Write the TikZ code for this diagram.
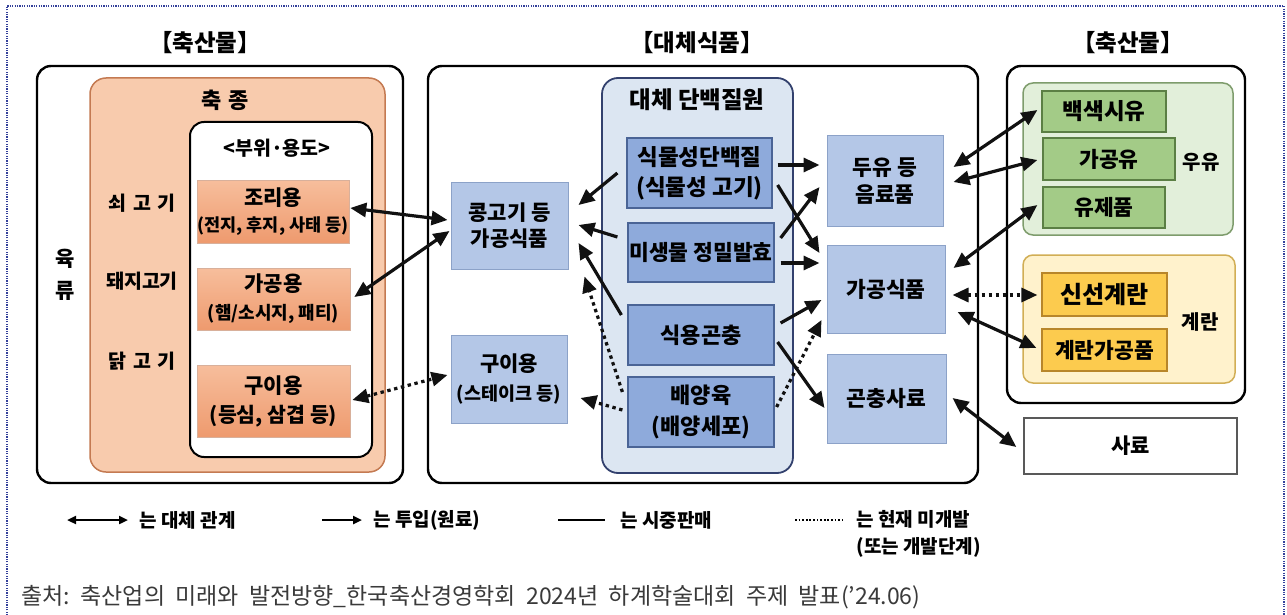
\documentclass[tikz,border=0pt]{standalone}
\usepackage{fontspec}
\setmainfont{Noto Sans CJK KR}
\usetikzlibrary{arrows.meta}
\definecolor{frameblue}{HTML}{34409A}
\definecolor{orfill}{HTML}{F8CBAD}
\definecolor{ordraw}{HTML}{C47A52}
\definecolor{oritemtop}{HTML}{F7BE9C}
\definecolor{oritembot}{HTML}{EE9A6E}
\definecolor{daefill}{HTML}{DCE6F2}
\definecolor{daedraw}{HTML}{33416E}
\definecolor{dkblue}{HTML}{8EAADB}
\definecolor{dkbluedraw}{HTML}{4A6496}
\definecolor{ltblue}{HTML}{B4C7E7}
\definecolor{ltbluedraw}{HTML}{8CA2C8}
\definecolor{gfill}{HTML}{E2EFDA}
\definecolor{gdraw}{HTML}{7E9C6C}
\definecolor{gitem}{HTML}{A3CB87}
\definecolor{gitemdraw}{HTML}{5B7F44}
\definecolor{yfill}{HTML}{FFF2CC}
\definecolor{ydraw}{HTML}{D1AE55}
\definecolor{yitem}{HTML}{FCCB4E}
\definecolor{yitemdraw}{HTML}{B8862A}
\definecolor{captgray}{HTML}{3A3A3A}
\definecolor{arrowblack}{HTML}{111111}
\newcommand{\fz}[2]{\fontsize{#1}{#2}\selectfont\bfseries}
\tikzset{
  bx/.style={rectangle, inner sep=0pt, align=center},
  outerbox/.style={bx, draw=black, line width=2.4pt, rounded corners=14pt},
  oritem/.style={bx, draw=oritembot!80!black!60, line width=0.6pt, top color=oritemtop, bottom color=oritembot},
  dkb/.style={bx, draw=dkbluedraw, line width=1.2pt, fill=dkblue},
  ltb/.style={bx, draw=ltbluedraw, line width=1pt, fill=ltblue},
  gi/.style={bx, draw=gitemdraw, line width=1.2pt, fill=gitem},
  yi/.style={bx, draw=yitemdraw, line width=1.2pt, fill=yitem},
  bigtip/.tip={Triangle[length=16pt,width=14pt]},
  arr/.style={-bigtip, line width=3.2pt, draw=arrowblack},
  dbl/.style={bigtip-bigtip, line width=3.2pt, draw=arrowblack},
  dots/.style={dash pattern=on 3.4pt off 3.6pt},
  smalltip/.tip={Triangle[length=9pt,width=8pt]},
}
\begin{document}
\begin{tikzpicture}[x=1pt,y=-1pt]
\path[use as bounding box, fill=white] (0,0) rectangle (1287,615);
% outer dotted frame
\draw[frameblue, line width=1.8pt, dash pattern=on 1.2pt off 1.2pt] (7,620) -- (7,6) -- (1284,6) -- (1284,620);

% titles
\node[font=\fz{23.5}{28}] (t1) at (205,43) {【축산물】};
\node[font=\fz{23.5}{28}] (t2) at (697,43) {【대체식품】};
\node[font=\fz{23.5}{28}] (t3) at (1128,43) {【축산물】};

% ---------- left panel ----------
\node[outerbox, minimum width=366pt, minimum height=417pt] (lout) at (220,274.5) {};
\node[bx, draw=ordraw, line width=1.5pt, fill=orfill, rounded corners=16pt, minimum width=295pt, minimum height=394pt] (chuk) at (237.5,275) {};
\node[font=\fz{22}{26}] (chukt) at (225,100) {축\hspace{7pt}종};
\node[bx, draw=black, line width=2pt, fill=white, rounded corners=14pt, minimum width=182pt, minimum height=335pt] (buwi) at (281,289.5) {};
\node[font=\fz{19.5}{24}] (buwit) at (277,148) {<부위·용도>};
\node[oritem, font=\fz{21}{26}, minimum width=152pt, minimum height=63pt] (jori) at (273,211.5) {조리용\\{\fz{17.5}{22}(전지, 후지, 사태 등)}};
\node[oritem, font=\fz{21}{28}, minimum width=153pt, minimum height=62pt] (gagong) at (273.5,299) {가공용\\{\fz{18}{22}(햄/소시지, 패티)}};
\node[oritem, font=\fz{21}{29}, minimum width=153pt, minimum height=72pt] (gui) at (273.5,401) {구이용\\{\fz{20.5}{24}(등심, 삼겹 등)}};
\node[font=\fz{19.5}{24}] (beef) at (142,203) {쇠\hspace{7pt}고\hspace{7pt}기};
\node[font=\fz{19.5}{24}] (pork) at (142,281) {돼지고기};
\node[font=\fz{19.5}{24}] (chick) at (142,361) {닭\hspace{7pt}고\hspace{7pt}기};
\node[font=\fz{21}{26}] (yuk) at (65,259) {육};
\node[font=\fz{21}{26}] (ryu) at (65,291) {류};

% ---------- middle panel ----------
\node[outerbox, minimum width=550pt, minimum height=417pt] (mout) at (703,274.5) {};
\node[bx, draw=daedraw, line width=1.8pt, fill=daefill, rounded corners=16pt, minimum width=191pt, minimum height=395pt] (dae) at (697.5,275.5) {};
\node[font=\fz{23.5}{28}] (daet) at (697,100) {대체 단백질원};
\node[dkb, font=\fz{22.5}{30}, minimum width=145pt, minimum height=70pt] (sik) at (699.5,173) {식물성단백질\\(식물성 고기)};
\node[dkb, font=\fz{21.5}{26}, minimum width=146pt, minimum height=59pt] (mi) at (701,252.5) {미생물 정밀발효};
\node[dkb, font=\fz{22}{26}, minimum width=146pt, minimum height=60pt] (gon) at (701,335) {식용곤충};
\node[dkb, font=\fz{22}{31}, minimum width=146pt, minimum height=70pt] (bae) at (701,412) {배양육\\(배양세포)};
\node[ltb, font=\fz{21}{26}, minimum width=117pt, minimum height=87pt] (kong) at (509.5,225.5) {콩고기 등\\가공식품};
\node[ltb, font=\fz{21}{29}, minimum width=116pt, minimum height=88pt] (guib) at (509,379) {구이용\\{\fz{18.5}{22}(스테이크 등)}};
\node[ltb, font=\fz{21.5}{27}, minimum width=116pt, minimum height=90pt] (duyu) at (885,181) {두유 등\\음료품};
\node[ltb, font=\fz{21.5}{26}, minimum width=118pt, minimum height=88pt] (gasik) at (886,289) {가공식품};
\node[ltb, font=\fz{21.5}{26}, minimum width=119pt, minimum height=89pt] (gonsa) at (886.5,398.5) {곤충사료};

% ---------- right panel ----------
\node[outerbox, minimum width=238pt, minimum height=337pt] (rout) at (1126,234.5) {};
\node[bx, draw=gdraw, line width=1.5pt, fill=gfill, rounded corners=10pt, minimum width=210pt, minimum height=152pt] (milk) at (1128,159) {};
\node[gi, font=\fz{22.5}{26}, minimum width=124pt, minimum height=41pt] (m1) at (1104,111.5) {백색시유};
\node[gi, font=\fz{21.5}{26}, minimum width=132pt, minimum height=42pt] (m2) at (1109,159) {가공유};
\node[gi, font=\fz{21.5}{26}, minimum width=122pt, minimum height=41pt] (m3) at (1104,207.5) {유제품};
\node[font=\fz{20}{24}] (milkt) at (1201,162) {우유};
\node[bx, draw=ydraw, line width=1.5pt, fill=yfill, rounded corners=10pt, minimum width=212pt, minimum height=128pt] (egg) at (1129,319) {};
\node[yi, font=\fz{24}{28}, minimum width=125pt, minimum height=43pt] (e1) at (1104.5,294.5) {신선계란};
\node[yi, font=\fz{21.5}{26}, minimum width=125pt, minimum height=42pt] (e2) at (1104.5,350) {계란가공품};
\node[font=\fz{20}{24}] (eggt) at (1200,322) {계란};
\node[bx, font=\fz{21}{26}, draw=black!65, line width=1.4pt, fill=white, minimum width=213pt, minimum height=56pt] (saryo) at (1130.5,446) {사료};

% ---------- connectors: left ----------
\draw[dbl] ([xshift=1pt,yshift=3.5pt]jori.east) -- ([xshift=-3pt,yshift=5.5pt]kong.west);
\draw[dbl] ([xshift=4pt,yshift=2pt]gagong.east) -- ([xshift=-1pt,yshift=-5.5pt]kong.west);
\draw[dbl, dots] ([xshift=2pt,yshift=1pt]gui.east) -- ([xshift=-3pt,yshift=4pt]guib.west);

% ---------- connectors: middle to left ----------
\draw[arr] ([xshift=-9pt,yshift=0pt]sik.west) -- ([xshift=10pt,yshift=20.5pt]kong.east);
\draw[arr] ([xshift=-10pt,yshift=15.5pt]mi.west) -- ([xshift=10pt,yshift=0.5pt]kong.east);
\draw[arr] ([xshift=-6pt,yshift=20pt]gon.west) -- ([xshift=10pt,yshift=-17.5pt]kong.east);
\draw[arr, dots] ([xshift=-5pt,yshift=20pt]bae.west) -- ([xshift=16pt,yshift=-7pt]kong.south east);
\draw[arr, dots] ([xshift=-5pt,yshift=2pt]bae.west) -- ([xshift=13pt,yshift=-19pt]guib.east);

% ---------- connectors: middle to right ----------
\draw[arr] ([xshift=5pt,yshift=8pt]sik.east) -- ([xshift=-7pt,yshift=16pt]duyu.west);
\draw[arr] ([xshift=5pt,yshift=-12pt]sik.east) -- ([xshift=-7pt,yshift=36pt]gasik.west);
\draw[arr] ([xshift=6pt,yshift=14.5pt]mi.east) -- ([xshift=-7pt,yshift=-6pt]duyu.west);
\draw[arr] ([xshift=6pt,yshift=-10.5pt]mi.east) -- ([xshift=-7pt,yshift=26pt]gasik.west);
\draw[arr] ([xshift=6pt,yshift=12pt]gon.east) -- ([xshift=-5pt,yshift=-11pt]gasik.west);
\draw[arr] ([xshift=3pt,yshift=-7pt]gon.east) -- ([xshift=-2pt,yshift=-9.5pt]gonsa.west);
\draw[arr, dots] ([xshift=2pt,yshift=5pt]bae.east) -- ([xshift=-5pt,yshift=-31pt]gasik.west);

% ---------- connectors: right ----------
\draw[dbl] ([xshift=10pt,yshift=14pt]duyu.east) -- ([xshift=-4pt,yshift=1.5pt]m1.west);
\draw[dbl] ([xshift=10pt,yshift=-1pt]duyu.east) -- ([xshift=-5pt,yshift=-1pt]m2.west);
\draw[dbl] ([xshift=8pt,yshift=21pt]gasik.east) -- ([xshift=-5pt,yshift=2.5pt]m3.west);
\draw[dbl, dots] ([xshift=7pt,yshift=-6pt]gasik.east) -- ([xshift=-4pt,yshift=-0.5pt]e1.west);
\draw[dbl] ([xshift=12pt,yshift=-23pt]gasik.east) -- ([xshift=-5pt,yshift=2pt]e2.west);
\draw[dbl] ([xshift=6pt,yshift=0.5pt]gonsa.east) -- ([xshift=-7pt,yshift=-1pt]saryo.west);

% ---------- legend ----------
\coordinate (l1a) at (67,520); \coordinate (l1b) at (128,520);
\coordinate (l2a) at (322,520); \coordinate (l2b) at (362,520);
\coordinate (l3a) at (558,520); \coordinate (l3b) at (605,520);
\coordinate (l4a) at (795,520); \coordinate (l4b) at (842,520);
\draw[smalltip-smalltip, line width=2.6pt] (l1a) -- (l1b);
\draw[-smalltip, line width=2.6pt] (l2a) -- (l2b);
\draw[line width=2.8pt] (l3a) -- (l3b);
\draw[line width=2.4pt, dash pattern=on 1.8pt off 1.8pt] (l4a) -- (l4b);
\node[font=\fz{19}{27}, anchor=west] (lg1) at (136,520) {는 대체 관계};
\node[font=\fz{19}{27}, anchor=west] (lg2) at (370,520) {는 투입(원료)};
\node[font=\fz{19}{27}, anchor=west] (lg3) at (617,520) {는 시중판매};
\node[font=\fz{19}{27}, anchor=west, align=left] (lg4) at (853,533.5) {는 현재 미개발\\(또는 개발단계)};

% ---------- caption ----------
\node[anchor=west, text=captgray, font=\fontsize{23}{27}\selectfont] (cap) at (18,597) {출처:\ \ 축산업의\ \ 미래와\ \ 발전방향\_한국축산경영학회\ \ 2024년\ \ 하계학술대회\ \ 주제\ \ 발표('24.06)};
\end{tikzpicture}
\end{document}
